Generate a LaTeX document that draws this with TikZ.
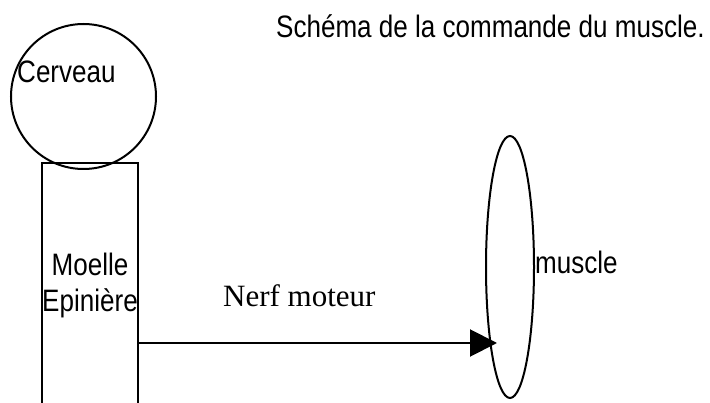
\documentclass[tikz,border=0pt]{standalone}
\usepackage{fontspec}
\setmainfont{Liberation Serif}
\setsansfont[FakeStretch=0.84]{Liberation Sans}
\usetikzlibrary{shapes.geometric, arrows.meta}

\begin{document}
\begin{tikzpicture}[x=1pt, y=-1pt,
	trait/.style={line width=2pt},
	etiquette/.style={inner sep=0pt, font=\sffamily\fontsize{31}{36}\selectfont}]
	\clip (0,0) rectangle (710,403);
	\node[etiquette, anchor=base west] (titre) at (276,38) {Schéma de la commande du muscle.};
	\node[trait, draw, circle, minimum size=145pt, inner sep=0pt] (cerveau) at (83.5,96.5) {};
	\node[etiquette, anchor=base west] (nomcerveau) at (17,83) {Cerveau};
	\node[trait, draw, minimum width=96pt, minimum height=280pt, anchor=north] (moelle) at (90,162) {};
	\node[etiquette, anchor=north, align=center] (nommoelle) at (90,252.5) {Moelle\\Epinière};
	\node[trait, draw, ellipse, minimum width=48pt, minimum height=262pt, inner sep=0pt] (muscle) at (510,267) {};
	\node[etiquette, anchor=base west] (nommuscle) at (535,274) {muscle};
	\coordinate (fleche) at (497,343);
	\draw[trait, -{Triangle[length=27pt, width=27pt]}] (moelle.east |- fleche) -- (fleche);
	\node[inner sep=0pt, font=\fontsize{31}{36}\selectfont, anchor=base west] (nerf) at (223,307) {Nerf moteur};
\end{tikzpicture}
\end{document}
